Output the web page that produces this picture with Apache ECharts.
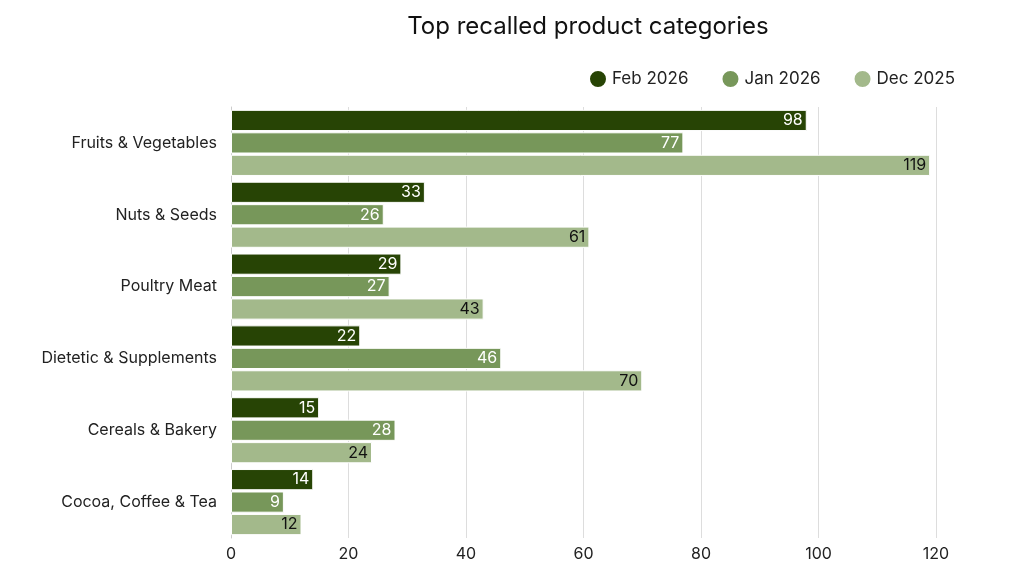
<!DOCTYPE html>
<html><head><meta charset="utf-8">
<script src="https://cdn.jsdelivr.net/npm/echarts@6/dist/echarts.min.js"></script>
<style>html,body{margin:0;background:#fff}#c{width:1024px;height:576px}</style>
</head><body><div id="c"></div>
<script>
const categories = ["Fruits & Vegetables","Nuts & Seeds","Poultry Meat","Dietetic & Supplements","Cereals & Bakery","Cocoa, Coffee & Tea"];
const feb2026 = [98,33,29,22,15,14];
const jan2026 = [77,26,27,46,28,9];
const dec2025 = [119,61,43,70,24,12];
const xTicks = [0,20,40,60,80,100,120];
const font = "Inter";
function s(name, data, color, labelColor){
  return {name, type:'bar', data, barGap:'6%', barCategoryGap:'8%',
    itemStyle:{color, borderColor:'#fff', borderWidth:1},
    label:{show:true, position:'insideRight', color:labelColor, fontSize:16, fontFamily:font, distance:4}};
}
const chart = echarts.init(document.getElementById('c'));
chart.setOption({
  animation:false,
  textStyle:{fontFamily:font},
  title:{text:'Top recalled product categories', left:583, top:10, textAlign:'center',
    textStyle:{fontSize:24, fontWeight:'normal', color:'#111', fontFamily:font}},
  legend:{top:64, left:583, textAlign:'center', icon:'circle', itemWidth:18, itemHeight:18, itemGap:32,
    textStyle:{fontSize:17, color:'#222', fontFamily:font}},
  grid:{left:231, right:88, top:107, bottom:38, containLabel:false},
  xAxis:{type:'value', min:0, max:120, interval:20,
    axisLabel:{fontSize:16, color:'#222', fontFamily:font, margin:8, formatter:v=>xTicks.includes(v)?String(v):''},
    splitLine:{lineStyle:{color:'#ddd'}}, axisLine:{show:false}, axisTick:{show:false}},
  yAxis:{type:'category', data:categories, inverse:true,
    axisLabel:{fontSize:16, color:'#222', fontFamily:font, margin:14},
    axisLine:{lineStyle:{color:'#ccc'}}, axisTick:{show:false}},
  series:[s('Feb 2026',feb2026,'#274405','#fff'), s('Jan 2026',jan2026,'#77975a','#fff'), s('Dec 2025',dec2025,'#a3b98b','#111')]
});
</script></body></html>
